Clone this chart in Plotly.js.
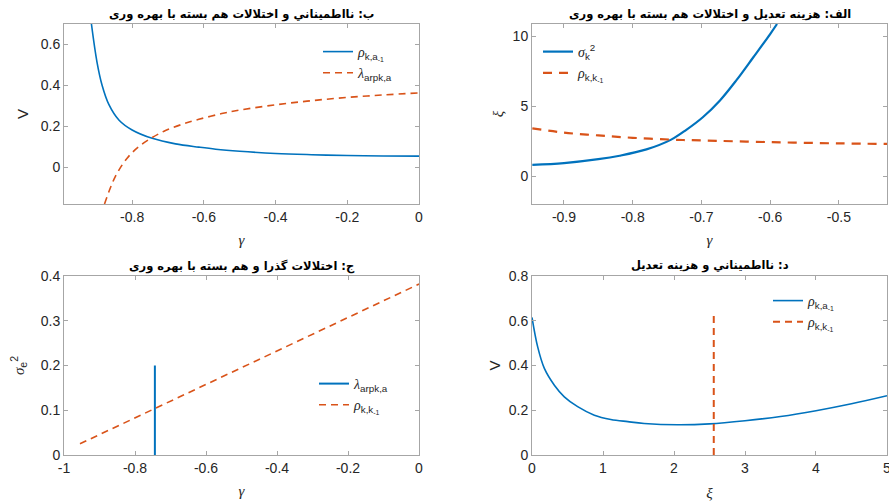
<!DOCTYPE html>
<html>
<head>
<meta charset="utf-8">
<script src="https://cdn.plot.ly/plotly-3.0.1.min.js"></script>
<style>html,body{margin:0;padding:0;background:#fff;}#plot{width:889px;height:502px;}</style>
</head>
<body>
<div id="plot"></div>
<script>
// Panel ب (top-left)
const gammaB_rho = [-0.9135, -0.898, -0.884, -0.865, -0.837, -0.8, -0.744, -0.679, -0.614, -0.567, -0.5, -0.4, -0.3, -0.2, -0.1, 0];
const rhoB = [0.70, 0.514, 0.402, 0.307, 0.231, 0.182, 0.141, 0.114, 0.098, 0.088, 0.078, 0.067, 0.061, 0.057, 0.055, 0.054];
const gammaB_lam = [-0.877, -0.847, -0.814, -0.781, -0.744, -0.707, -0.66, -0.614, -0.55, -0.5, -0.4, -0.3, -0.2, -0.1, 0];
const lamB = [-0.18, -0.046, 0.044, 0.101, 0.145, 0.179, 0.21, 0.234, 0.262, 0.279, 0.305, 0.325, 0.341, 0.353, 0.363];

// Panel الف (top-right)
const gammaA_sig = [-0.946, -0.9, -0.85, -0.819, -0.78, -0.744, -0.722, -0.698, -0.673, -0.649, -0.625, -0.6, -0.59];
const sigA = [0.79, 0.92, 1.2, 1.45, 1.9, 2.6, 3.3, 4.2, 5.4, 6.85, 8.45, 10.14, 10.86];
const gammaA_rho = [-0.946, -0.9, -0.85, -0.8, -0.744, -0.7, -0.6, -0.5, -0.43];
const rhoA = [3.40, 3.1, 2.9, 2.73, 2.6, 2.54, 2.42, 2.33, 2.29];

// Panel ج (bottom-left)
const gammaC_lam = [-0.744, -0.744];
const lamC = [0, 0.2];
const gammaC_rho = [-0.955, 0];
const rhoC = [0.025, 0.382];

// Panel د (bottom-right)
const xiD = [0, 0.08, 0.174, 0.315, 0.455, 0.643, 0.878, 1.11, 1.35, 1.58, 2.05, 2.5, 3.0, 3.5, 4.0, 4.5, 5.0];
const rhoD = [0.615, 0.483, 0.387, 0.312, 0.26, 0.216, 0.178, 0.159, 0.149, 0.141, 0.135, 0.139, 0.153, 0.172, 0.198, 0.229, 0.265];
const xiD_k = [2.56, 2.56];
const rhoD_k = [0, 0.625];

// Tick labels
const tickB_x = [-0.8, -0.6, -0.4, -0.2, 0];
const tickB_xt = ['-0.8', '-0.6', '-0.4', '-0.2', '0'];
const tickB_y = [0, 0.2, 0.4, 0.6];
const tickB_yt = ['0', '0.2', '0.4', '0.6'];
const tickA_x = [-0.9, -0.8, -0.7, -0.6, -0.5];
const tickA_xt = ['-0.9', '-0.8', '-0.7', '-0.6', '-0.5'];
const tickA_y = [0, 5, 10];
const tickA_yt = ['0', '5', '10'];
const tickC_x = [-1, -0.8, -0.6, -0.4, -0.2, 0];
const tickC_xt = ['-1', '-0.8', '-0.6', '-0.4', '-0.2', '0'];
const tickC_y = [0, 0.1, 0.2, 0.3, 0.4];
const tickC_yt = ['0', '0.1', '0.2', '0.3', '0.4'];
const tickD_x = [0, 1, 2, 3, 4, 5];
const tickD_xt = ['0', '1', '2', '3', '4', '5'];
const tickD_y = [0, 0.2, 0.4, 0.6, 0.8];
const tickD_yt = ['0', '0.2', '0.4', '0.6', '0.8'];

const titles = ['ب: نااطمیناني و اختلالات هم بسته با بهره وری', 'الف: هزینه تعدیل و اختلالات هم بسته با بهره وری', 'ج: اختلالات گذرا و هم بسته با بهره وری', 'د: نااطمیناني و هزینه تعدیل'];

const BLUE = '#0072BD', ORANGE = '#D95319';
const DASH = '7px,5px';
const G = '<span style="font-family:Liberation Serif"><i>';
const GE = '</i></span>';
const nRho_ka = G + 'ρ' + GE + '<sub>k,a<sub>-1</sub></sub>';
const nRho_kk = G + 'ρ' + GE + '<sub>k,k<sub>-1</sub></sub>';
const nLam = G + 'λ' + GE + '<sub>arpk,a</sub>';
const nSig = G + 'σ' + GE + '<sub>k</sub><sup>2</sup>';

const traces = [
  {x: gammaB_rho, y: rhoB, name: nRho_ka, mode: 'lines', line: {color: BLUE, width: 1.6, shape: 'spline', smoothing: 1}, xaxis: 'x', yaxis: 'y', legend: 'legend'},
  {x: gammaB_lam, y: lamB, name: nLam, mode: 'lines', line: {color: ORANGE, width: 1.6, dash: DASH, shape: 'spline', smoothing: 1}, xaxis: 'x', yaxis: 'y', legend: 'legend'},
  {x: gammaA_sig, y: sigA, name: nSig, mode: 'lines', line: {color: BLUE, width: 2.2, shape: 'spline', smoothing: 1}, xaxis: 'x2', yaxis: 'y2', legend: 'legend2'},
  {x: gammaA_rho, y: rhoA, name: nRho_kk, mode: 'lines', line: {color: ORANGE, width: 2.2, dash: '9px,7px', shape: 'spline', smoothing: 1}, xaxis: 'x2', yaxis: 'y2', legend: 'legend2'},
  {x: gammaC_lam, y: lamC, name: nLam, mode: 'lines', line: {color: BLUE, width: 2}, xaxis: 'x3', yaxis: 'y3', legend: 'legend3'},
  {x: gammaC_rho, y: rhoC, name: nRho_kk, mode: 'lines', line: {color: ORANGE, width: 1.6, dash: DASH}, xaxis: 'x3', yaxis: 'y3', legend: 'legend3'},
  {x: xiD, y: rhoD, name: nRho_ka, mode: 'lines', line: {color: BLUE, width: 1.6, shape: 'spline', smoothing: 1}, xaxis: 'x4', yaxis: 'y4', legend: 'legend4'},
  {x: xiD_k, y: rhoD_k, name: nRho_kk, mode: 'lines', line: {color: ORANGE, width: 2, dash: DASH}, xaxis: 'x4', yaxis: 'y4', legend: 'legend4'}
];

const W = 889, H = 502;
const dxL = [64 / W, 419 / W], dxR = [532 / W, 887 / W];
const dyT = [1 - 204 / H, 1 - 24 / H], dyB = [1 - 455 / H, 1 - 276 / H];

const tickFont = {family: 'Liberation Sans, Arial, sans-serif', size: 14, color: '#262626'};
function ax(domain, range, tv, tt, anchor, title, titleFont, standoff) {
  return {
    domain: domain, range: range, tickmode: 'array', tickvals: tv, ticktext: tt, anchor: anchor,
    showgrid: false, zeroline: false, showline: true, linecolor: '#a6a6a6', linewidth: 1,
    mirror: 'ticks', ticks: 'inside', ticklen: 4, tickcolor: '#a6a6a6',
    tickfont: tickFont, ticklabeloverflow: 'allow',
    title: {text: title, font: titleFont, standoff: standoff}
  };
}
const serifF = {family: 'Liberation Serif, serif', size: 15, color: '#262626'};
const sansF = {family: 'Liberation Sans, Arial, sans-serif', size: 15, color: '#262626'};

function leg(x, y) {
  return {x: x / W, y: 1 - y / H, xanchor: 'left', yanchor: 'top', bgcolor: 'rgba(0,0,0,0)', borderwidth: 0,
    font: {family: 'Liberation Sans, Arial, sans-serif', size: 14, color: '#262626'}, itemwidth: 30, tracegroupgap: 0};
}

const titleFont = {family: 'DejaVu Sans, sans-serif', size: 11.5, color: '#000'};
const annotations = [
  {text: '<b>' + titles[0] + '</b>', x: (64 + 419) / 2 / W, y: 1 - 15 / H},
  {text: '<b>' + titles[1] + '</b>', x: (532 + 887) / 2 / W, y: 1 - 15 / H},
  {text: '<b>' + titles[2] + '</b>', x: (64 + 419) / 2 / W, y: 1 - 266 / H},
  {text: '<b>' + titles[3] + '</b>', x: (532 + 887) / 2 / W, y: 1 - 265 / H}
].map(a => Object.assign(a, {xref: 'paper', yref: 'paper', showarrow: false, xanchor: 'center', yanchor: 'middle', font: titleFont}));

const layout = {
  width: W, height: H, margin: {l: 0, r: 0, t: 0, b: 0},
  paper_bgcolor: '#fff', plot_bgcolor: '#fff', showlegend: true,
  xaxis: ax(dxL, [-0.99, 0], tickB_x, tickB_xt, 'y', '<i>γ</i>', serifF, 10),
  yaxis: ax(dyT, [-0.18, 0.7], tickB_y, tickB_yt, 'x', 'V', sansF, 8),
  xaxis2: ax(dxR, [-0.9465, -0.43], tickA_x, tickA_xt, 'y2', '<i>γ</i>', serifF, 10),
  yaxis2: ax(dyT, [-2, 10.86], tickA_y, tickA_yt, 'x2', '<i>ξ</i>', serifF, 5),
  xaxis3: ax(dxL, [-1, 0], tickC_x, tickC_xt, 'y3', '<i>γ</i>', serifF, 10),
  yaxis3: ax(dyB, [0, 0.4], tickC_y, tickC_yt, 'x3', G + 'σ' + GE + '<sub>e</sub><sup>2</sup>', sansF, 12),
  xaxis4: ax(dxR, [0, 5.0001], tickD_x, tickD_xt, 'y4', '<i>ξ</i>', serifF, 12),
  yaxis4: ax(dyB, [0, 0.8], tickD_y, tickD_yt, 'x4', 'V', sansF, 4),
  legend: leg(318, 36),
  legend2: leg(538, 36),
  legend3: leg(314, 368),
  legend4: leg(768, 285),
  annotations: annotations
};

Plotly.newPlot('plot', traces, layout, {staticPlot: true, displayModeBar: false});
</script>
</body>
</html>
